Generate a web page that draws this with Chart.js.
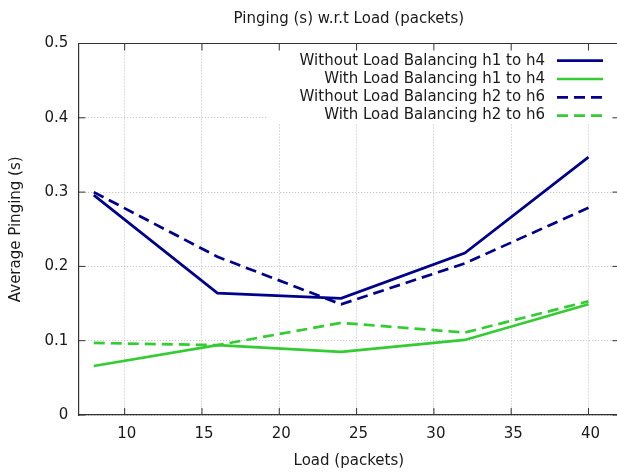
<!DOCTYPE html>
<html>
<head>
<meta charset="utf-8">
<script src="https://cdn.jsdelivr.net/npm/chart.js@4/dist/chart.umd.min.js"></script>
<style>
  html, body { margin: 0; padding: 0; background: #fff; overflow: hidden; }
  #wrap { width: 625px; height: 474px; }
</style>
</head>
<body>
<div id="wrap"><canvas id="pingChart" width="625" height="474"></canvas></div>
<script>
// values
const loads = [8, 16, 24, 32, 40];
const withoutH1H4 = [0.296, 0.164, 0.157, 0.218, 0.347];
const withH1H4 = [0.066, 0.094, 0.085, 0.101, 0.149];
const withoutH2H6 = [0.300, 0.213, 0.149, 0.204, 0.279];
const withH2H6 = [0.097, 0.094, 0.124, 0.111, 0.153];
const seriesLabels = [
  'Without Load Balancing h1 to h4',
  'With Load Balancing h1 to h4',
  'Without Load Balancing h2 to h6',
  'With Load Balancing h2 to h6'
];
const xTicks = [10, 15, 20, 25, 30, 35, 40];
const yTicks = [0, 0.1, 0.2, 0.3, 0.4, 0.5];

const BLUE = '#00008b';
const GREEN = '#33cc33';
const DASH = [11, 6];
const TEXT = '#1a1a1a';

Chart.defaults.font.family = "'DejaVu Sans', sans-serif";
Chart.defaults.font.size = 15;
Chart.defaults.color = TEXT;

function toPoints(values) {
  return values.map((y, i) => ({ x: loads[i], y }));
}

function line(label, values, color, dash) {
  return {
    label,
    data: toPoints(values),
    borderColor: color,
    backgroundColor: color,
    borderWidth: 2.7,
    borderDash: dash,
    pointRadius: 0,
    fill: false,
    tension: 0
  };
}

// gnuplot look: title over the plot, key box inside, frame with inward tics
const gnuplotFrame = {
  id: 'gnuplotFrame',
  beforeDatasetsDraw(chart) {
    const { ctx, chartArea } = chart;
    ctx.save();
    ctx.fillStyle = '#fff';
    ctx.fillRect(268, chartArea.top + 1, chartArea.right - 268 - 1, 123 - chartArea.top);
    ctx.restore();
  },
  afterDatasetsDraw(chart) {
    const { ctx, chartArea } = chart;
    const x = chart.scales.x;
    const y = chart.scales.y;
    const tl = 7;
    ctx.save();
    ctx.strokeStyle = '#333';
    ctx.lineWidth = 1.2;
    ctx.beginPath();
    ctx.moveTo(chartArea.left, chartArea.top);
    ctx.lineTo(chartArea.right, chartArea.top);
    ctx.lineTo(chartArea.right, chartArea.bottom);
    ctx.stroke();
    ctx.lineWidth = 1;
    ctx.beginPath();
    x.ticks.forEach(t => {
      const px = x.getPixelForValue(t.value);
      ctx.moveTo(px, chartArea.bottom);
      ctx.lineTo(px, chartArea.bottom - tl);
      ctx.moveTo(px, chartArea.top);
      ctx.lineTo(px, chartArea.top + tl);
    });
    y.ticks.forEach(t => {
      const py = y.getPixelForValue(t.value);
      ctx.moveTo(chartArea.left, py);
      ctx.lineTo(chartArea.left + tl, py);
      ctx.moveTo(chartArea.right, py);
      ctx.lineTo(chartArea.right - tl, py);
    });
    ctx.stroke();

    // key
    ctx.font = "15px 'DejaVu Sans', sans-serif";
    ctx.textAlign = 'right';
    ctx.textBaseline = 'middle';
    chart.data.datasets.forEach((ds, i) => {
      const ry = 60.7 + i * 18.3;
      ctx.fillStyle = TEXT;
      ctx.fillText(ds.label, 545, ry);
      ctx.strokeStyle = ds.borderColor;
      ctx.lineWidth = ds.borderWidth;
      ctx.setLineDash(ds.borderDash || []);
      ctx.beginPath();
      ctx.moveTo(557, ry);
      ctx.lineTo(603, ry);
      ctx.stroke();
    });
    ctx.setLineDash([]);

    // title
    ctx.fillStyle = TEXT;
    ctx.textAlign = 'center';
    ctx.textBaseline = 'alphabetic';
    ctx.fillText('Pinging (s) w.r.t Load (packets)', (chartArea.left + chartArea.right) / 2, 22.5);
    ctx.restore();
  }
};

const grid = { color: '#bdbdbd', lineWidth: 1, drawTicks: false };
// in Chart.js v4 border.dash also dashes the grid lines
const border = { display: true, color: '#333', width: 1.2, dash: [1, 2] };

new Chart(document.getElementById('pingChart').getContext('2d'), {
  type: 'line',
  data: {
    datasets: [
      line(seriesLabels[0], withoutH1H4, BLUE, []),
      line(seriesLabels[1], withH1H4, GREEN, []),
      line(seriesLabels[2], withoutH2H6, BLUE, DASH),
      line(seriesLabels[3], withH2H6, GREEN, DASH)
    ]
  },
  options: {
    responsive: false,
    animation: false,
    layout: { padding: { top: 43.5, right: 5.6, left: 0, bottom: 0 } },
    plugins: {
      legend: { display: false },
      title: { display: false },
      tooltip: { enabled: false }
    },
    scales: {
      x: {
        type: 'linear',
        min: 7,
        max: 42,
        afterBuildTicks: scale => { scale.ticks = xTicks.map(v => ({ value: v })); },
        afterFit: scale => { scale.height = 59; },
        grid,
        border,
        ticks: { padding: 10, labelOffset: 2, maxRotation: 0, autoSkip: false },
        title: { display: true, text: 'Load (packets)', padding: { top: 0, bottom: 4.3 } }
      },
      y: {
        min: 0,
        max: 0.5,
        afterBuildTicks: scale => { scale.ticks = yTicks.map(v => ({ value: v })); },
        afterFit: scale => { scale.width = 78.3; },
        grid,
        border,
        ticks: { padding: 10 },
        title: { display: true, text: 'Average Pinging (s)', padding: { top: 7, bottom: 0 } }
      }
    }
  },
  plugins: [gnuplotFrame]
});
</script>
</body>
</html>
